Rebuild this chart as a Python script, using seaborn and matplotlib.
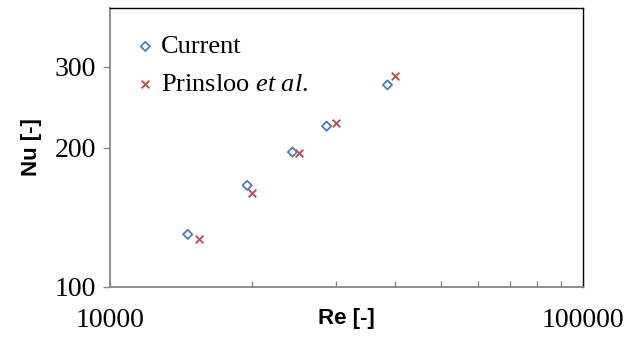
import numpy as np
import pandas as pd
import matplotlib
matplotlib.use('Agg')
import matplotlib.pyplot as plt
import seaborn as sns
from matplotlib.ticker import FixedLocator, NullFormatter, FixedFormatter

# 数据
re_current = [14600, 19500, 24300, 28700, 38600]
nu_current = [130, 166, 196, 223, 274]
re_prinsloo = [15400, 20000, 25100, 30000, 40000]
nu_prinsloo = [127, 160, 195, 227, 286]

x_ticks = [10000, 100000]
x_minor = [20000, 30000, 40000, 50000, 60000, 70000, 80000, 90000]
y_ticks = [100, 200, 300]

df = pd.DataFrame({
    'Re': re_current + re_prinsloo,
    'Nu': nu_current + nu_prinsloo,
    'src': ['Current'] * len(re_current) + ['Prinsloo'] * len(re_prinsloo),
})

sns.set_style('white', {'xtick.bottom': True, 'ytick.left': True,
                        'text.color': 'black', 'xtick.color': 'black', 'ytick.color': 'black',
                        'axes.labelcolor': 'black'})
plt.rcParams['font.family'] = ['Liberation Serif', 'DejaVu Serif']
plt.rcParams['mathtext.fontset'] = 'custom'
plt.rcParams['mathtext.it'] = 'Liberation Serif:italic'
plt.rcParams['mathtext.rm'] = 'Liberation Serif'

fig = plt.figure(figsize=(6.34, 3.38), dpi=100)
ax = fig.add_axes([0.1735, 0.1509, 0.7461, 0.8269])

blue = '#4a7ebb'
red = '#c0504d'
sns.scatterplot(data=df[df.src == 'Current'], x='Re', y='Nu', marker='D', s=22,
                facecolor='none', edgecolor=blue, linewidth=1.3, ax=ax, label='Current')
sns.scatterplot(data=df[df.src == 'Prinsloo'], x='Re', y='Nu', marker='x', s=30,
                color=red, linewidth=1.4, ax=ax, label=r'Prinsloo $et\ al.$')

ax.set_xscale('log')
ax.set_yscale('log')
ax.set_xlim(10000, 100000)
ax.set_ylim(100, 403)

ax.xaxis.set_major_locator(FixedLocator(x_ticks))
ax.xaxis.set_major_formatter(FixedFormatter([str(v) for v in x_ticks]))
ax.xaxis.set_minor_locator(FixedLocator(x_minor))
ax.xaxis.set_minor_formatter(NullFormatter())
ax.yaxis.set_major_locator(FixedLocator(y_ticks))
ax.yaxis.set_major_formatter(FixedFormatter([str(v) for v in y_ticks]))
ax.yaxis.set_minor_locator(FixedLocator([]))

ax.tick_params(axis='x', which='both', direction='in', length=4, width=1, color='#868686',
               labelsize=20, labelcolor='black', pad=15)
ax.tick_params(axis='y', which='major', direction='out', length=5, width=1, color='#868686',
               labelsize=20, labelcolor='black', pad=5)

for side in ['left', 'bottom']:
    ax.spines[side].set_color('#868686')
    ax.spines[side].set_linewidth(1.3)
for side in ['top', 'right']:
    ax.spines[side].set_color('black')
    ax.spines[side].set_linewidth(1.0)

ax.set_xlabel('Re [-]', family=['Liberation Sans', 'DejaVu Sans'], fontweight='bold', fontsize=16,
              color='black', labelpad=-18)
ax.set_ylabel('Nu [-]', family=['Liberation Sans', 'DejaVu Sans'], fontweight='bold', fontsize=16,
              color='black', labelpad=9)

leg = ax.legend(loc='upper left', bbox_to_anchor=(0.03, 0.94), frameon=False, fontsize=19,
                handlelength=0.8, handletextpad=0.2, labelspacing=0.55, borderaxespad=0)
for t in leg.get_texts():
    t.set_color('black')

fig.savefig('out.png', dpi=100)
